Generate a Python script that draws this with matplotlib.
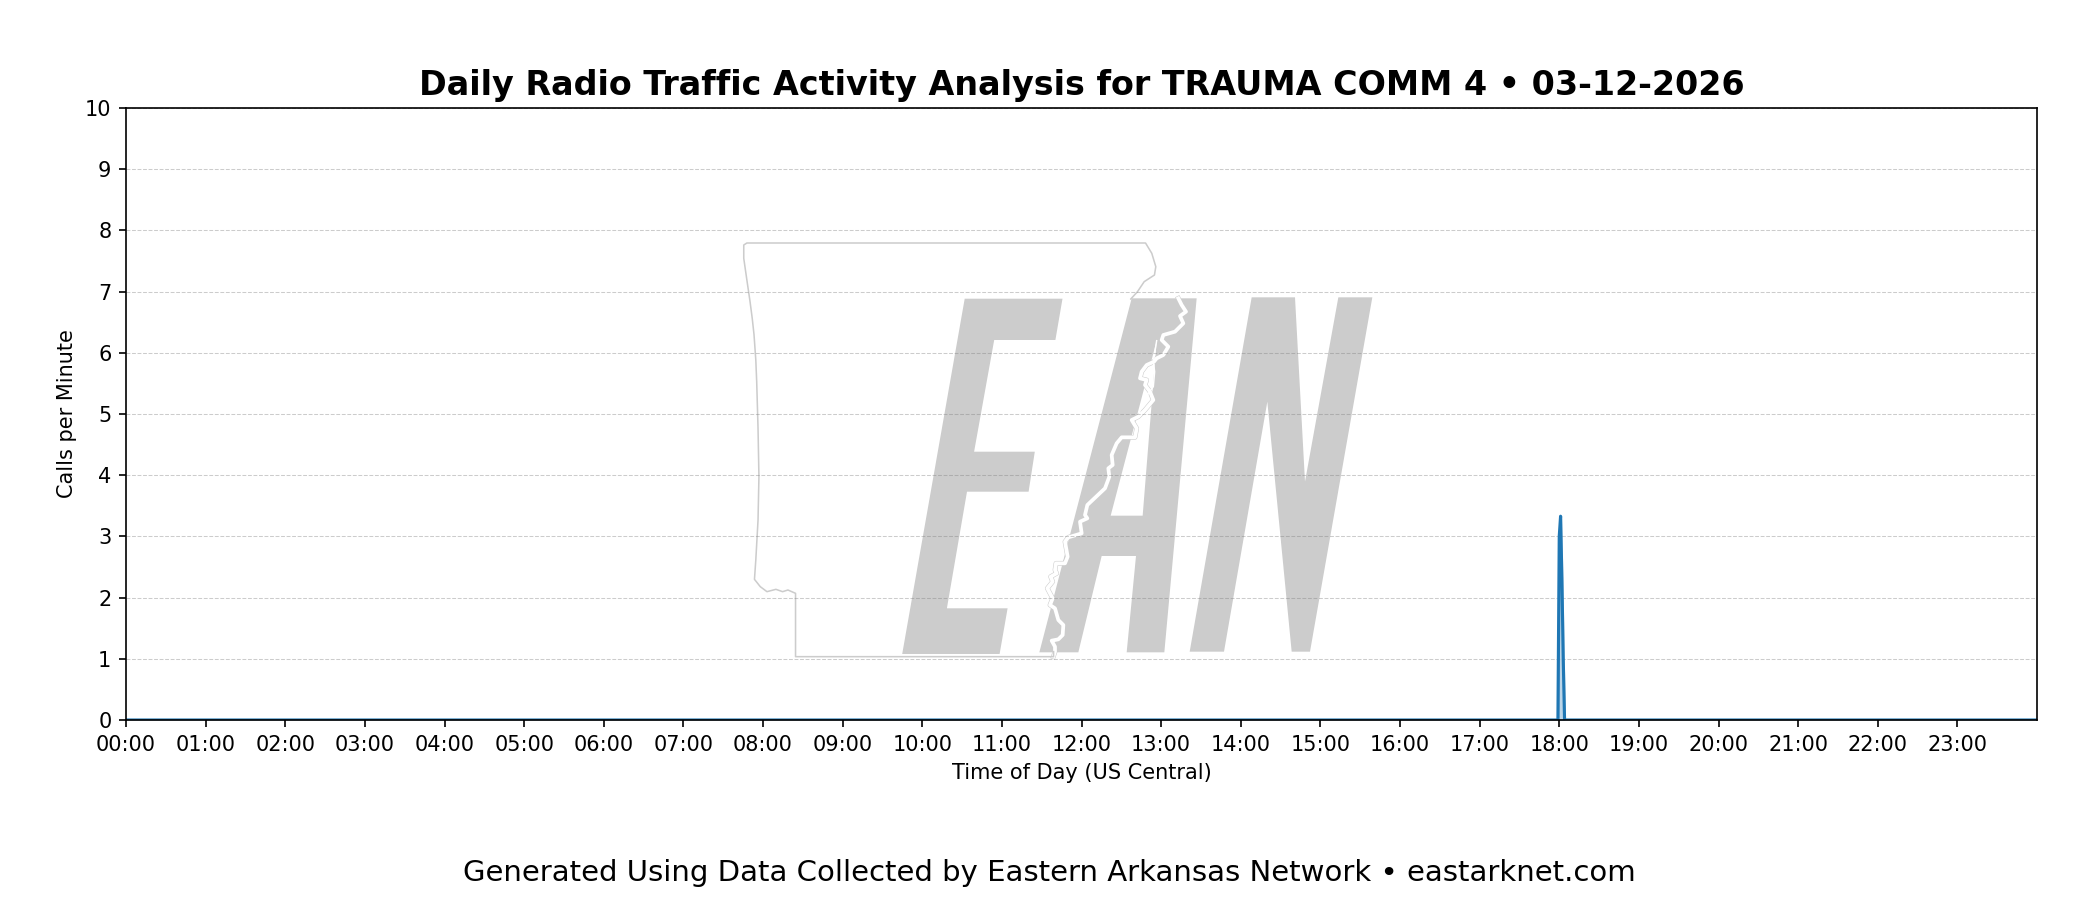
import numpy as np
import matplotlib
matplotlib.use('Agg')
from matplotlib import pyplot as plt

# calls per minute, only the minutes around the one spike
minutes = [0, 1079, 1080, 1081, 1082, 1083, 1084, 1439]
calls = [0, 0, 3.0, 3.33, 2.3, 1.0, 0, 0]

hour_ticks = list(range(0, 1440, 60))
hour_labels = ['%02d:00' % h for h in range(24)]
y_ticks = list(range(0, 11))

title = 'Daily Radio Traffic Activity Analysis for TRAUMA COMM 4 \u2022 03-12-2026'
footer = 'Generated Using Data Collected by Eastern Arkansas Network \u2022 eastarknet.com'

# watermark outlines, in 2100x900 picture pixels
letter_e = [(964.7, 298.7), (1062.5, 298.7), (1055.4, 340), (994.2, 340), (974.1, 451.7),
            (1034.8, 451.7), (1028.6, 491.7), (967, 491.7), (946.9, 608.3), (1007.6, 608.3),
            (999.6, 654), (902.2, 654)]
letter_a = [(118, 1117), (395, 55), (590, 55), (493, 1117), (380, 1117), (408, 828), (305, 828), (235, 1117)]
letter_a_hole = [(332, 707), (428, 707), (470, 182)]
letter_n = [(569, 1115), (755, 52), (885, 52), (915, 605), (1015, 52), (1117, 52), (930, 1115),
            (875, 1115), (802, 365), (672, 1115)]
river = [(535, 55), (545, 75), (558, 95), (540, 108), (550, 130), (525, 155), (490, 165), (485, 180),
         (505, 200), (490, 225), (470, 235), (462, 245), (440, 255), (425, 275), (420, 295), (440, 300),
         (435, 315), (450, 335), (460, 360), (435, 390), (415, 410), (395, 420), (410, 445), (405, 472),
         (365, 472), (350, 490), (335, 525), (338, 555), (325, 565), (328, 590), (315, 625), (262, 675),
         (255, 705), (262, 715), (240, 725), (245, 760), (205, 772), (195, 785), (203, 830), (195, 850),
         (168, 850), (165, 870), (170, 880), (152, 890), (158, 905), (142, 925), (158, 955), (150, 975),
         (165, 985), (175, 1020), (190, 1035), (188, 1065), (175, 1078), (155, 1082), (165, 1100),
         (165, 1115), (160, 1130)]
# the thin side channel and the blob of the old river bed
channel = [(470, 182), (460, 245), (464, 275), (460, 320), (445, 340), (425, 375), (415, 410)]
blob = [(440, 250), (462, 250), (458, 275), (440, 300), (420, 300), (418, 280)]
border = [(965, 237), (980, 215), (995, 185), (1018, 165), (1021, 140), (1012, 100), (998, 69), (105, 69),
          (98, 75), (98, 115), (105, 180), (112, 244), (117, 295), (121, 344), (125, 420), (127, 485),
          (130, 625), (132, 770), (130, 900), (125, 1020), (122, 1078), (135, 1100), (150, 1115),
          (170, 1108), (185, 1115), (197, 1110), (214, 1120), (214, 1310), (792, 1310), (792, 1295)]


def crop3(pts):
    a = np.array(pts, dtype=float)
    return np.column_stack((1000 + a[:, 0] / 3, 280 + a[:, 1] / 3))


def crop1(pts):
    a = np.array(pts, dtype=float)
    return np.column_stack((700 + a[:, 0] / 2.24, 220 + a[:, 1] / 3))


fig = plt.figure(figsize=(14, 6), dpi=150)

# logo sits in its own axes under the chart
logo = fig.add_axes([0, 0, 1, 1], zorder=0)
logo.set_xlim(0, 2100)
logo.set_ylim(900, 0)
logo.axis('off')
gray = '#cccccc'
logo.fill(*np.array(letter_e).T, color=gray, lw=0)
logo.fill(*crop3(letter_a).T, color=gray, lw=0)
logo.fill(*crop3(letter_a_hole).T, color='white', lw=0)
logo.fill(*crop3(letter_n).T, color=gray, lw=0)
r = crop3(river)
logo.plot(r[:, 0], r[:, 1], color=gray, lw=2.3)
logo.plot(r[:, 0], r[:, 1], color='white', lw=1.8)
c = crop3(channel)
logo.plot(c[:, 0], c[:, 1], color='white', lw=0.7)
logo.fill(*crop3(blob).T, color='white', lw=0)
b = crop1(border)
logo.plot(b[:, 0], b[:, 1], color=gray, lw=0.75)

ax = fig.add_axes([126 / 2100, 1 - 720 / 900, 1911 / 2100, 612 / 900], zorder=1)
ax.patch.set_alpha(0)
ax.plot(minutes, calls, color='#1f77b4', lw=1.5)
ax.fill_between(minutes, calls, color='#1f77b4', alpha=0.3)
ax.set_xlim(0, 1440)
ax.set_ylim(0, 10)
ax.set_xticks(hour_ticks)
ax.set_xticklabels(hour_labels)
ax.set_yticks(y_ticks)
ax.grid(axis='y', linestyle='--', linewidth=0.5, color='gray', alpha=0.4)
ax.set_xlabel('Time of Day (US Central)')
ax.set_ylabel('Calls per Minute')
ax.set_title(title, fontsize=16, fontweight='bold', pad=6)
fig.text(0.4995, 0.0305, footer, ha='center', va='center', fontsize=14)

fig.savefig('out.png', dpi=150)
